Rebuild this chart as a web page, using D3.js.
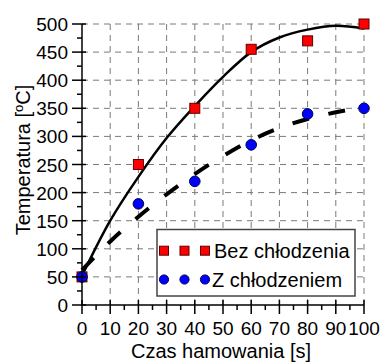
<!DOCTYPE html>
<html><head><meta charset="utf-8">
<script src="https://cdn.jsdelivr.net/npm/d3@7"></script>
<style>html,body{margin:0;padding:0;background:#fff;}svg{display:block;font-family:Arial,"Liberation Sans",sans-serif;}</style>
</head><body>
<svg id="c" width="382" height="363"></svg>
<script>
// Data
const timeS = [0, 20, 40, 60, 80, 100];
const bezChlodzenia = [50, 250, 350, 455, 470, 500];
const zChlodzeniem = [50, 180, 220, 285, 340, 350];
// fitted trend lines
const fitT = [0, 10, 20, 30, 40, 50, 60, 70, 80, 90, 100];
const fitBez = [52, 150, 228, 297, 354, 406, 450, 476, 490, 497, 492];
const fitZ = [62, 113, 157, 197, 233, 265, 293, 315, 331, 343, 352];
const xTicks = [0, 10, 20, 30, 40, 50, 60, 70, 80, 90, 100];
const yTicks = [0, 50, 100, 150, 200, 250, 300, 350, 400, 450, 500];
const seriesNames = ["Bez chłodzenia", "Z chłodzeniem"];

const svg = d3.select("#c");
const x = d3.scaleLinear().domain([0, 100]).range([82, 364]);
const y = d3.scaleLinear().domain([0, 500]).range([305, 24]);

// grid
const grid = svg.append("g").attr("stroke", "#7a7a7a").attr("stroke-width", 1).attr("stroke-dasharray", "6,5");
grid.selectAll("line.v").data(xTicks.slice(1)).join("line")
  .attr("x1", d => x(d)).attr("x2", d => x(d)).attr("y1", y(0)).attr("y2", y(500));
grid.selectAll("line.h").data(yTicks.slice(1)).join("line")
  .attr("y1", d => y(d)).attr("y2", d => y(d)).attr("x1", x(0)).attr("x2", x(100));

// fitted curves
const line = d3.line().x(d => x(d[0])).y(d => y(d[1])).curve(d3.curveCatmullRom);
svg.append("path").datum(fitT.map((t, i) => [t, fitBez[i]]))
  .attr("d", line).attr("fill", "none").attr("stroke", "#000").attr("stroke-width", 2.5);
svg.append("path").datum(fitT.map((t, i) => [t, fitZ[i]]))
  .attr("d", line).attr("fill", "none").attr("stroke", "#000").attr("stroke-width", 4)
  .attr("stroke-dasharray", "17,20");

// markers
const sq = 10;
svg.append("g").selectAll("rect").data(timeS.map((t, i) => [t, bezChlodzenia[i]])).join("rect")
  .attr("x", d => x(d[0]) - sq / 2).attr("y", d => y(d[1]) - sq / 2)
  .attr("width", sq).attr("height", sq)
  .attr("fill", "#ff0000").attr("stroke", "#600000").attr("stroke-width", 1);
svg.append("g").selectAll("circle").data(timeS.map((t, i) => [t, zChlodzeniem[i]])).join("circle")
  .attr("cx", d => x(d[0])).attr("cy", d => y(d[1])).attr("r", 5.3)
  .attr("fill", "#0000ff").attr("stroke", "#000050").attr("stroke-width", 1);

// legend
const lg = svg.append("g");
lg.append("rect").attr("x", 157).attr("y", 229.5).attr("width", 198).attr("height", 66.5)
  .attr("fill", "#fff").attr("stroke", "#444").attr("stroke-width", 1.5);
const lx = [164, 184.5, 205];
lg.selectAll("rect.m").data(lx).join("rect").attr("class", "m")
  .attr("x", d => d - 4.5).attr("y", 250.7 - 4.5).attr("width", 9).attr("height", 9)
  .attr("fill", "#ff0000").attr("stroke", "#600000").attr("stroke-width", 1);
lg.selectAll("circle.m").data(lx).join("circle").attr("class", "m")
  .attr("cx", d => d).attr("cy", 279.5).attr("r", 4.6)
  .attr("fill", "#0000ff").attr("stroke", "#000050").attr("stroke-width", 1);
lg.append("text").attr("x", 214).attr("y", 257.5).attr("font-size", 20).text(seriesNames[0]);
lg.append("text").attr("x", 212).attr("y", 286.5).attr("font-size", 20).text(seriesNames[1]);

// axes
const ax = svg.append("g").attr("stroke", "#000").attr("stroke-width", 1.5);
ax.append("line").attr("x1", x(0)).attr("x2", x(100)).attr("y1", y(0)).attr("y2", y(0));
ax.append("line").attr("x1", x(0)).attr("x2", x(0)).attr("y1", y(0)).attr("y2", y(500));
// x major/minor ticks
ax.selectAll("line.xt").data(xTicks).join("line")
  .attr("x1", d => x(d)).attr("x2", d => x(d)).attr("y1", y(0) - 5).attr("y2", y(0) + 9);
ax.selectAll("line.xm").data(xTicks.slice(0, -1).map(d => d + 5)).join("line")
  .attr("x1", d => x(d)).attr("x2", d => x(d)).attr("y1", y(0)).attr("y2", y(0) + 5);
// y major/minor ticks
ax.selectAll("line.yt").data(yTicks).join("line")
  .attr("y1", d => y(d)).attr("y2", d => y(d)).attr("x1", x(0) - 10).attr("x2", x(0) + 4);
ax.selectAll("line.ym").data(yTicks.slice(0, -1).map(d => d + 25)).join("line")
  .attr("y1", d => y(d)).attr("y2", d => y(d)).attr("x1", x(0) - 5).attr("x2", x(0));

// tick labels
svg.append("g").selectAll("text").data(xTicks).join("text")
  .attr("x", d => x(d)).attr("y", 335).attr("text-anchor", "middle").attr("font-size", 19)
  .text(d => d);
svg.append("g").selectAll("text").data(yTicks).join("text")
  .attr("x", 68).attr("y", d => y(d) + 7).attr("text-anchor", "end").attr("font-size", 19)
  .text(d => d);

// axis titles
svg.append("text").attr("x", 221).attr("y", 358).attr("text-anchor", "middle")
  .attr("font-size", 20).text("Czas hamowania [s]");
const yt = svg.append("text").attr("transform", "translate(30,160) rotate(-90)")
  .attr("text-anchor", "middle").attr("font-size", 20);
yt.append("tspan").text("Temperatura [");
yt.append("tspan").attr("font-size", 13).attr("dy", -7).text("o");
yt.append("tspan").attr("dy", 7).text("C]");
</script>
</body></html>
